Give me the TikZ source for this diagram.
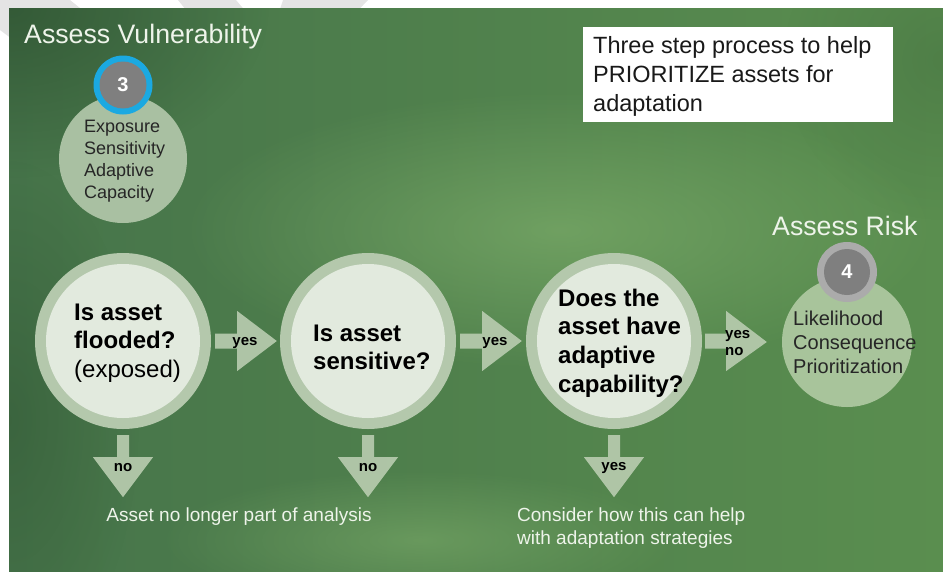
\documentclass[tikz,border=0pt]{standalone}
\usepackage{fontspec}
\setmainfont{Liberation Sans}
\usetikzlibrary{calc,fadings}

\definecolor{bgL}{HTML}{46744A}
\definecolor{bgM}{HTML}{6A9E5C}
\definecolor{bgR}{HTML}{5A8E4F}
\definecolor{bgDark}{HTML}{2E5231}
\definecolor{bgGlow}{HTML}{88B872}
\definecolor{ringOut}{HTML}{B4C8AC}
\definecolor{ringIn}{HTML}{E2EADE}
\definecolor{arrowFill}{HTML}{B7CBAE}
\definecolor{stageFill}{HTML}{A9C0A2}
\definecolor{riskFill}{HTML}{A8C49B}
\definecolor{badgeBlue}{HTML}{1BA9E1}
\definecolor{badgeRing}{HTML}{ABABAB}
\definecolor{badgeCore}{HTML}{7F7F7F}
\definecolor{paleText}{HTML}{EEF4EA}
\definecolor{markGray}{HTML}{E4E4E4}

% soft radial spot: opaque centre, transparent rim
\tikzfading[name=softspot, inner color=transparent!0, outer color=transparent!100]

\tikzset{
  bigring/.style={circle, fill=ringOut, minimum size=176pt, inner sep=0pt},
  bigcore/.style={circle, fill=ringIn, minimum size=154pt, inner sep=0pt},
  stagedisc/.style={circle, minimum size=#1, inner sep=0pt},
  blockarrow/.style={fill=arrowFill, opacity=0.92},
  question/.style={anchor=west, align=left, inner sep=0pt, text=black,
    font=\fontsize{24}{28.5}\selectfont},
  stagelist/.style={anchor=west, align=left, inner sep=0pt, text=black!85},
  arrowlabel/.style={inner sep=0pt, text=black,
    font=\fontsize{15}{17}\selectfont\bfseries},
  heading/.style={anchor=base west, inner sep=0pt, text=paleText,
    font=\fontsize{26.7}{30}\selectfont},
  outcome/.style={inner sep=0pt, text=paleText, align=left,
    font=\fontsize{19}{23}\selectfont},
  badgenum/.style={inner sep=0pt, text=white, font=\fontsize{20}{22}\selectfont\bfseries},
  spot/.style={path fading=softspot}
}

\begin{document}
\begin{tikzpicture}[x=1pt,y=-1pt]
\useasboundingbox (0,0) rectangle (943,571);

% faint grey watermark strokes on the white page margin
\fill[markGray] (0,0) -- (70,0) -- (120,40) -- (40,60) -- (0,30) -- cycle;
\fill[markGray] (178,0) -- (236,0) -- (270,40) -- (210,40) -- cycle;
\fill[markGray] (283,0) -- (368,0) -- (330,40) -- (270,40) -- cycle;

% blurred green backdrop
\shade[left color=bgL, middle color=bgM, right color=bgR] (9,8) rectangle (943,571);
\begin{scope}
  \clip (9,8) rectangle (943,571);
  \fill[bgDark, spot, opacity=0.75] (9,8) ellipse [x radius=260, y radius=170];
  \fill[bgDark, spot, opacity=0.45] (9,420) ellipse [x radius=130, y radius=260];
  \fill[bgGlow, spot, opacity=0.55] (560,230) ellipse [x radius=380, y radius=140];
  \fill[bgGlow, spot, opacity=0.45] (420,540) ellipse [x radius=260, y radius=70];
  \fill[bgDark, spot, opacity=0.25] (943,60) ellipse [x radius=160, y radius=160];
\end{scope}

% heading box
\node[fill=white, minimum width=310pt, minimum height=95pt, inner sep=0pt, anchor=north west]
  (note) at (583,27) {};
\node[anchor=west, align=left, inner sep=0pt, text=black!90,
  font=\fontsize{23.5}{29}\selectfont] (notetext) at (593,76)
  {Three step process to help\\PRIORITIZE assets for\\adaptation};

% step 3: assess vulnerability
\node[heading] (vtitle) at (24,43) {Assess Vulnerability};
\node[stagedisc=128pt, fill=stageFill] (vuln) at (123,159) {};
\node[stagedisc=59pt, fill=badgeBlue] (b3) at (123,85) {};
\node[stagedisc=47pt, fill=badgeCore] at (b3) {};
\node[badgenum] at (b3) {3};
\node[stagelist, font=\fontsize{18}{22}\selectfont] (vlist) at (84,161)
  {Exposure\\Sensitivity\\Adaptive\\Capacity};

% step 4: assess risk
\node[heading] (rtitle) at (772,235) {Assess Risk};
\node[stagedisc=130pt, fill=riskFill] (c4) at (847,342) {};
\node[stagedisc=60pt, fill=badgeRing] (b4) at (847,272) {};
\node[stagedisc=46pt, fill=badgeCore] at (b4) {};
\node[badgenum] at (b4) {4};
\node[stagelist, font=\fontsize{20}{24}\selectfont] (rlist) at (793,342)
  {Likelihood\\Consequence\\Prioritization};

% the three screening questions
\node[bigring] (c1) at (123,341) {};
\node[bigcore] at (c1) {};
\node[bigring] (c2) at (368,341) {};
\node[bigcore] at (c2) {};
\node[bigring] (c3) at (614,341) {};
\node[bigcore] at (c3) {};

\node[question] (q1) at (74,343) {\bfseries Is asset\\\bfseries flooded?\\(exposed)};
\node[question] (q2) at (313,347.5) {\bfseries Is asset\\\bfseries sensitive?};
\node[question, font=\fontsize{24}{28.7}\selectfont\bfseries] (q3) at (558,343)
  {Does the\\asset have\\adaptive\\capability?};

% horizontal "yes" arrows
\fill[blockarrow] ($(c1.east)+(4,-7.5)$) -- ($(c1.east)+(26,-7.5)$) -- ($(c1.east)+(26,-30)$)
  -- ($(c2.west)+(-3,0)$) -- ($(c1.east)+(26,30)$) -- ($(c1.east)+(26,7.5)$)
  -- ($(c1.east)+(4,7.5)$) -- cycle;
\fill[blockarrow] ($(c2.east)+(4,-7.5)$) -- ($(c2.east)+(26,-7.5)$) -- ($(c2.east)+(26,-30)$)
  -- ($(c3.west)+(-4,0)$) -- ($(c2.east)+(26,30)$) -- ($(c2.east)+(26,7.5)$)
  -- ($(c2.east)+(4,7.5)$) -- cycle;
\fill[blockarrow] ($(c3.east)+(3,-7.5)$) -- ($(c3.east)+(24,-7.5)$) -- ($(c3.east)+(24,-30)$)
  -- ($(c4.west)+(-15,0)$) -- ($(c3.east)+(24,30)$) -- ($(c3.east)+(24,7.5)$)
  -- ($(c3.east)+(3,7.5)$) -- cycle;

\node[arrowlabel] (y1) at (245,343) {yes};
\node[arrowlabel] (y2) at (495,343) {yes};
\node[arrowlabel, anchor=west, align=left, font=\fontsize{15}{17}\selectfont\bfseries]
  (y3) at (725,343) {yes\\no};

% downward arrows
\coordinate (t1) at ($(c1.south)+(0,68)$);
\coordinate (t2) at ($(c2.south)+(0,68)$);
\coordinate (t3) at ($(c3.south)+(0,68)$);
\foreach \c/\t in {c1/t1, c2/t2, c3/t3}{
  \fill[blockarrow] ($(\c.south)+(-6,6)$) -- ($(\c.south)+(-6,28)$) -- ($(\c.south)+(-30,28)$)
    -- (\t) -- ($(\c.south)+(30,28)$) -- ($(\c.south)+(6,28)$) -- ($(\c.south)+(6,6)$) -- cycle;
}
\node[arrowlabel] (n1) at (123,468) {no};
\node[arrowlabel] (n2) at (368,468) {no};
\node[arrowlabel] (y4) at (614,468) {yes};

% outcomes
\node[outcome] (drop) at (239,517) {Asset no longer part of analysis};
\node[outcome, anchor=west] (keep) at (517,528.5)
  {Consider how this can help\\with adaptation strategies};
\end{tikzpicture}
\end{document}
